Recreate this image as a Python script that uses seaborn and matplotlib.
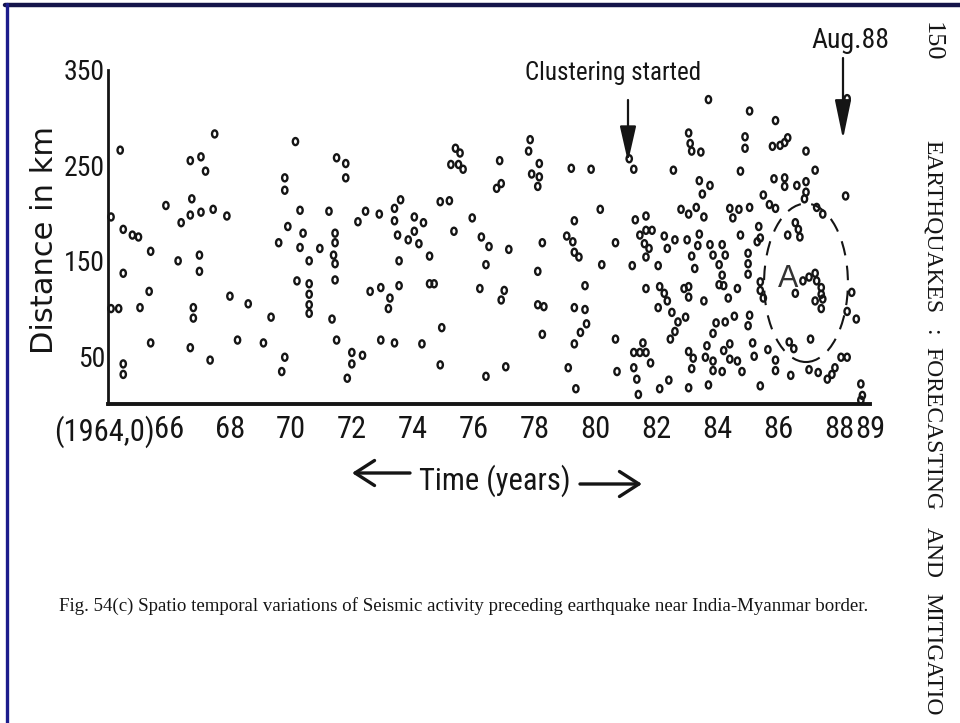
import matplotlib
matplotlib.use("Agg")
import matplotlib.pyplot as plt
import matplotlib.transforms as mtransforms
from matplotlib.patches import Ellipse, FancyArrowPatch
from matplotlib.lines import Line2D
from matplotlib.path import Path
import seaborn as sns
import pandas as pd

# ---- seismic events: time of occurrence (decimal year) and distance (km) ----
year = [
    1964.4, 1967.5, 1966.7, 1967.05, 1967.2, 1965.9, 1966.75, 1964.1, 1966.7, 1967.05,
    1967.45, 1966.4, 1964.5, 1964.8, 1965.0, 1965.4, 1966.3, 1967.0, 1967.0, 1964.5,
    1965.35, 1964.1, 1964.35, 1965.05, 1966.8, 1966.8, 1965.4, 1966.7, 1967.35, 1964.5,
    1964.5,
    1970.15, 1969.8, 1969.8, 1967.9, 1970.3, 1969.9, 1970.4, 1969.6, 1970.3, 1970.95,
    1970.6, 1970.2, 1970.6, 1970.6, 1970.6, 1970.6, 1968.0, 1968.6, 1969.35, 1968.25,
    1969.1, 1969.8, 1969.7,
    1971.5, 1971.8, 1971.8, 1971.25, 1971.45, 1971.45, 1971.4, 1971.45, 1971.45, 1971.35,
    1971.5, 1972.0, 1972.0, 1971.85, 1972.35, 1972.2, 1972.45, 1972.9, 1973.4, 1973.4,
    1973.6, 1973.5, 1973.85, 1974.05, 1974.05, 1974.35, 1974.2, 1974.55, 1974.55, 1974.7,
    1973.55, 1973.55, 1972.6, 1972.95, 1973.25, 1973.2, 1972.95, 1973.4, 1974.3,
    1975.4, 1975.55, 1975.25, 1975.5, 1975.65, 1974.9, 1975.2, 1975.35, 1974.95, 1974.9,
    1975.95, 1976.25, 1976.5, 1976.4, 1976.2, 1976.85, 1976.75, 1976.9, 1977.15, 1977.0,
    1976.9, 1976.4, 1977.05, 1977.85, 1977.8, 1977.9, 1978.15, 1978.15, 1978.1, 1978.25,
    1978.1, 1978.1, 1978.3, 1978.25,
    1979.2, 1979.85, 1981.1, 1981.25, 1980.15, 1979.3, 1979.05, 1979.25, 1979.3, 1979.45,
    1980.2, 1980.65, 1981.2, 1981.3, 1981.65, 1981.45, 1981.65, 1981.85, 1981.6, 1981.75,
    1981.65, 1979.65, 1979.3, 1979.65, 1979.7, 1979.5, 1979.3, 1979.1, 1979.35, 1981.65,
    1980.65, 1980.7, 1981.25, 1981.45, 1981.55, 1981.65, 1981.8, 1981.25, 1981.35, 1981.4,
    1983.7, 1985.05, 1983.05, 1983.1, 1983.15, 1983.45, 1984.9, 1984.9, 1982.55, 1984.75,
    1983.4, 1983.75, 1983.5, 1985.5, 1982.8, 1983.05, 1983.3, 1983.55, 1984.4, 1984.7,
    1984.5, 1985.05, 1982.25, 1982.35, 1982.6, 1983.0, 1983.4, 1983.35, 1983.15, 1983.25,
    1983.75, 1983.85, 1984.15, 1984.25, 1984.05, 1984.15, 1984.2, 1984.05, 1984.35, 1984.75,
    1985.0, 1985.0, 1985.0, 1985.35, 1985.4, 1985.3, 1982.05, 1982.1, 1982.25, 1982.35,
    1982.9, 1983.05, 1983.05, 1982.95, 1982.05, 1982.5, 1982.7, 1982.6, 1982.45, 1983.55,
    1983.95, 1983.85, 1984.25, 1984.55, 1985.05, 1985.0, 1984.65, 1985.4, 1985.4, 1985.5,
    1983.05, 1983.2, 1983.15, 1983.65, 1983.6, 1983.85, 1983.85, 1984.2, 1984.15, 1984.4,
    1984.4, 1984.65, 1984.8, 1985.15, 1985.2, 1982.1, 1982.4, 1983.05, 1983.7, 1985.4,
    1988.25, 1985.9, 1985.8, 1986.05, 1986.2, 1986.3, 1986.9, 1987.2, 1985.85, 1986.2,
    1986.2, 1986.6, 1986.9, 1986.9, 1986.85, 1988.2, 1985.7, 1985.9, 1987.25, 1987.45,
    1986.3, 1986.55, 1986.65, 1986.7, 1986.8, 1987.0, 1987.2, 1987.25, 1987.4, 1987.4,
    1986.55, 1987.2, 1987.45, 1987.4, 1988.4, 1988.25, 1988.55, 1986.35, 1986.5, 1985.65,
    1985.9, 1985.9, 1987.05, 1987.0, 1987.3, 1987.6, 1987.75, 1987.85, 1988.05, 1988.25,
    1986.4, 1988.7, 1988.75, 1988.7,
]
distance_km = [
    266, 283, 255, 259, 244, 208, 215, 196, 198, 201,
    204, 190, 183, 177, 175, 160, 150, 156, 139, 137,
    118, 100, 100, 101, 101, 90, 64, 59, 46, 42,
    31,
    275, 237, 224, 197, 203, 186, 179, 169, 164, 163,
    150, 129, 126, 115, 104, 95, 113, 105, 91, 67,
    64, 49, 34,
    258, 252, 237, 202, 179, 169, 156, 147, 130, 89,
    67, 54, 42, 27, 51, 191, 202, 199, 205, 192,
    214, 177, 172, 196, 181, 190, 168, 155, 126, 126,
    150, 124, 118, 122, 111, 100, 67, 64, 63,
    268, 263, 251, 251, 246, 212, 213, 181, 80, 41,
    195, 175, 165, 146, 121, 255, 226, 231, 162, 119,
    109, 29, 39, 277, 265, 241, 252, 238, 228, 169,
    139, 104, 102, 73,
    247, 246, 257, 246, 204, 192, 176, 170, 159, 154,
    146, 169, 145, 193, 197, 177, 182, 182, 168, 163,
    154, 124, 101, 99, 84, 75, 63, 38, 16, 121,
    68, 34, 54, 54, 64, 54, 43, 38, 26, 10,
    319, 307, 284, 273, 265, 264, 280, 268, 245, 244,
    234, 229, 220, 219, 204, 199, 206, 196, 205, 204,
    195, 206, 176, 163, 172, 172, 178, 166, 155, 142,
    167, 156, 167, 156, 146, 135, 124, 125, 111, 177,
    158, 147, 136, 186, 174, 170, 145, 123, 116, 108,
    121, 123, 112, 91, 101, 96, 86, 76, 68, 108,
    85, 74, 86, 92, 93, 82, 121, 128, 119, 111,
    55, 48, 37, 61, 49, 45, 35, 56, 34, 63,
    47, 45, 34, 64, 50, 16, 25, 17, 20, 19,
    320, 297, 270, 271, 274, 279, 265, 245, 236, 237,
    228, 229, 233, 222, 215, 218, 209, 205, 206, 199,
    177, 190, 183, 175, 129, 133, 137, 129, 122, 115,
    116, 108, 110, 100, 117, 97, 89, 65, 58, 57,
    46, 35, 68, 36, 33, 26, 31, 38, 49, 49,
    30, 21, 9, 4,
]

x_ticks = list(range(1965, 1990))
x_tick_labels = [f"{y % 100:02d}" if (y % 2 == 0 or y == 1989) else "" for y in x_ticks]
y_major = [50, 150, 250, 350]
y_minor = [100, 200, 300]

caption = ("Fig. 54(c) Spatio temporal variations of Seismic activity preceding "
           "earthquake near India-Myanmar border.")

INK = "#151515"

sns.set_style("white")
# narrow sans for the figure lettering
plt.rcParams["font.family"] = ["Roboto Condensed", "DejaVu Sans"]
plt.rcParams["font.stretch"] = "condensed"

W, H = 960, 723
fig = plt.figure(figsize=(W / 100, H / 100), dpi=100)
fig.patch.set_facecolor("white")


def fx(px):
    return px / W


def fy(py):
    return 1 - py / H


ax = fig.add_axes([fx(108), fy(404), fx(870) - fx(108), fy(70) - fy(404)])

df = pd.DataFrame({"year": year, "distance": distance_km})
oval = Path.unit_circle().transformed(mtransforms.Affine2D().scale(0.75, 1.0))
sns.scatterplot(data=df, x="year", y="distance", ax=ax, marker=oval, s=26,
                facecolors="none", edgecolor=INK, linewidth=1.7, clip_on=False)

ax.set_xlim(1964, 1989)
ax.set_ylim(0, 350)
sns.despine(ax=ax)
ax.spines["left"].set_linewidth(2.0)
ax.spines["bottom"].set_linewidth(2.8)
for s in ("left", "bottom"):
    ax.spines[s].set_color(INK)

ax.set_xticks(x_ticks)
ax.set_xticklabels(x_tick_labels)
ax.set_yticks(y_major)
ax.set_yticks(y_minor, minor=True)
ax.set_yticklabels([str(v) for v in y_major])
ax.tick_params(axis="x", direction="in", length=9, width=1.6, pad=8,
               labelsize=22, colors=INK)
ax.tick_params(axis="y", which="major", direction="in", length=5, width=1.6,
               pad=2, labelsize=20, colors=INK)
ax.tick_params(axis="y", which="minor", direction="in", length=4, width=1.6,
               colors=INK)

# origin label sitting just left of "66"
ax.annotate("(1964,0)", xy=(1966, 0), xycoords="data", xytext=(-10.5, -8),
            textcoords="offset points", ha="right", va="top", fontsize=22,
            color=INK, annotation_clip=False)

ax.set_ylabel("Distance in km", fontsize=22, family=["DejaVu Sans"],
              fontstretch="normal", color=INK)
ax.yaxis.set_label_coords((45 - 108) / 762, (404 - 240) / 334)
ax.yaxis.label.set_va("center")
ax.set_xlabel("Time (years)", fontsize=22, color=INK)
ax.xaxis.set_label_coords((495 - 108) / 762, (404 - 481) / 334)
ax.xaxis.label.set_va("center")

# cluster region A
ax.add_patch(Ellipse((1986.9, 127), width=2.75, height=166, fill=False,
                     ls=(0, (7, 5)), lw=1.5, ec=INK, clip_on=False))
ax.text(1986.3, 131, "A", fontsize=22, ha="center", va="center",
        color="#333333", family=["Liberation Sans", "DejaVu Sans"],
        fontstretch="normal")


def arrow(p0, p1, style, lw):
    fig.add_artist(FancyArrowPatch((fx(p0[0]), fy(p0[1])), (fx(p1[0]), fy(p1[1])),
                                   transform=fig.transFigure, arrowstyle=style,
                                   mutation_scale=20, lw=lw, color=INK,
                                   shrinkA=0, shrinkB=0))


fig.text(fx(613), fy(73), "Clustering started", fontsize=18, ha="center",
         va="center", color=INK)
arrow((628, 100), (628, 162), "-|>,head_length=1.1,head_width=0.25", 1.6)

fig.text(fx(850), fy(40), "Aug.88", fontsize=20, ha="center", va="center", color=INK)
arrow((843, 58), (843, 139), "-|>,head_length=1.2,head_width=0.25", 1.6)

# time direction arrows on both sides of the axis title
arrow((410, 473), (352, 473), "->,head_length=0.7,head_width=0.45", 2.4)
arrow((580, 484), (642, 484), "->,head_length=0.7,head_width=0.45", 2.4)

serif = ["Liberation Serif", "DejaVu Serif"]
fig.text(fx(464), fy(606), caption, family=serif, fontstretch="normal",
         fontsize=13.6, ha="center", va="center", color=INK)

# running head of the page, printed sideways
fig.text(fx(932), fy(22), "150", rotation=270, ha="center", va="top",
         family=serif, fontstretch="normal", fontsize=19, color=INK)
for word, top in [("EARTHQUAKES", 140), (":", 329), ("FORECASTING", 347),
                  ("AND", 527), ("MITIGATIO", 593)]:
    fig.text(fx(932), fy(top), word, rotation=270, ha="center", va="top",
             family=serif, fontstretch="normal", fontsize=17, color=INK)

# page frame
fig.add_artist(Line2D([fx(5), 1.0], [fy(5), fy(5)], transform=fig.transFigure,
                      lw=3.2, color="#14144a"))
fig.add_artist(Line2D([fx(7), fx(7)], [fy(4), 0.0], transform=fig.transFigure,
                      lw=2.4, color="#1c1c8c"))

fig.savefig("out.png", dpi=100)
